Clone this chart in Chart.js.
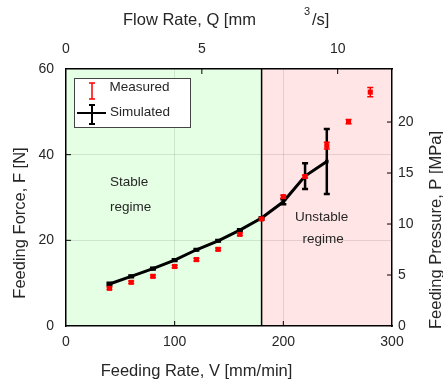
<!DOCTYPE html>
<html>
<head>
<meta charset="utf-8">
<script src="https://cdn.jsdelivr.net/npm/chart.js@4.4.0/dist/chart.umd.min.js"></script>
<style>
  html, body { margin: 0; padding: 0; background: #fff; }
</style>
</head>
<body>
<canvas id="forceChart" width="443" height="385"></canvas>
<script>
// Feeding rate (mm/min) and measured force (N)
const measuredRate = [40, 60, 80, 100, 120, 140, 160, 180, 200, 220, 240, 260, 280];
const measuredForce = [8.8, 10.2, 11.6, 13.9, 15.5, 17.9, 21.4, 25.0, 30.2, 34.9, 42.1, 47.7, 54.6];
const measuredErr = [0.3, 0.3, 0.3, 0.3, 0.3, 0.3, 0.3, 0.3, 0.3, 0.3, 0.8, 0.5, 1.1];

// Simulated force (N)
const simRate = [40, 60, 80, 100, 120, 140, 160, 180, 200, 220, 240];
const simForce = [9.8, 11.6, 13.4, 15.4, 17.8, 19.9, 22.4, 25.2, 29.0, 35.0, 38.4];
const simErr = [0.3, 0.2, 0.2, 0.2, 0.2, 0.2, 0.2, 0.2, 0.6, 3.0, 7.6];

// Stable / unstable boundary (mm/min)
const boundaryRate = 180;

// Tick labels
const rateTicks = [0, 100, 200, 300];
const forceTicks = [0, 20, 40, 60];
const flowTicks = [0, 5, 10];
const pressureTicks = [0, 5, 10, 15, 20];

const FONT = '"Liberation Sans", Arial, sans-serif';
const TXT = '#262626';

function drawErrorBars(ctx, xs, ys, xv, yv, ev, color, lw, cap) {
    ctx.save();
    ctx.strokeStyle = color;
    ctx.lineWidth = lw;
    xv.forEach((v, i) => {
        const px = xs.getPixelForValue(v);
        const yTop = ys.getPixelForValue(yv[i] + ev[i]);
        const yBot = ys.getPixelForValue(yv[i] - ev[i]);
        ctx.beginPath();
        ctx.moveTo(px, yTop); ctx.lineTo(px, yBot);
        ctx.moveTo(px - cap, yTop); ctx.lineTo(px + cap, yTop);
        ctx.moveTo(px - cap, yBot); ctx.lineTo(px + cap, yBot);
        ctx.stroke();
    });
    ctx.restore();
}

const decor = {
    id: 'decor',
    beforeDraw(chart) {
        const { ctx, chartArea: a, scales: { x } } = chart;
        const xb = x.getPixelForValue(boundaryRate);
        ctx.save();
        ctx.fillStyle = '#e5ffe5';
        ctx.fillRect(a.left, a.top, xb - a.left, a.bottom - a.top);
        ctx.fillStyle = '#ffe5e5';
        ctx.fillRect(xb, a.top, a.right - xb, a.bottom - a.top);
        ctx.restore();
    },
    beforeDatasetsDraw(chart) {
        const { ctx, chartArea: a, scales: { x } } = chart;
        const xb = x.getPixelForValue(boundaryRate);
        ctx.save();
        ctx.strokeStyle = '#000';
        ctx.lineWidth = 1.5;
        ctx.beginPath();
        ctx.moveTo(xb, a.top); ctx.lineTo(xb, a.bottom);
        ctx.stroke();
        ctx.restore();
    },
    afterDatasetDraw(chart, args) {
        const { ctx, scales: { x, y } } = chart;
        if (args.index === 1) drawErrorBars(ctx, x, y, simRate, simForce, simErr, '#000', 2.5, 3);
        if (args.index === 0) drawErrorBars(ctx, x, y, measuredRate, measuredForce, measuredErr, '#ff0000', 1.5, 3);
    },
    afterDraw(chart) {
        const { ctx, chartArea: a, scales: { x, y, x2, y2 } } = chart;
        const tl = 5;
        ctx.save();
        // inward tick marks
        ctx.strokeStyle = '#000';
        ctx.lineWidth = 1;
        ctx.beginPath();
        rateTicks.slice(1, -1).forEach(v => { const p = x.getPixelForValue(v); ctx.moveTo(p, a.bottom); ctx.lineTo(p, a.bottom - tl); });
        flowTicks.slice(1).forEach(v => { const p = x2.getPixelForValue(v); ctx.moveTo(p, a.top); ctx.lineTo(p, a.top + tl); });
        forceTicks.slice(1, -1).forEach(v => { const p = y.getPixelForValue(v); ctx.moveTo(a.left, p); ctx.lineTo(a.left + tl, p); });
        pressureTicks.slice(1).forEach(v => { const p = y2.getPixelForValue(v); ctx.moveTo(a.right, p); ctx.lineTo(a.right - tl, p); });
        ctx.stroke();

        // axis titles
        ctx.fillStyle = TXT;
        ctx.textBaseline = 'middle';
        ctx.font = '16.5px ' + FONT;
        ctx.textAlign = 'center';
        ctx.fillText('Feeding Rate, V [mm/min]', 196.5, 371);
        ctx.textAlign = 'left';
        ctx.fillText('Flow Rate, Q [mm', 123, 20);
        ctx.fillText('/s]', 312, 20);
        ctx.font = '11px ' + FONT;
        ctx.fillText('3', 304, 12);
        ctx.font = '16.5px ' + FONT;
        ctx.textAlign = 'center';
        ctx.save();
        ctx.translate(20, 223);
        ctx.rotate(-Math.PI / 2);
        ctx.fillText('Feeding Force, F [N]', 0, 0);
        ctx.restore();
        ctx.save();
        ctx.translate(436, 230);
        ctx.rotate(-Math.PI / 2);
        ctx.fillText('Feeding Pressure, P [MPa]', 0, 0);
        ctx.restore();

        // regime labels
        ctx.font = '13.5px ' + FONT;
        ctx.textAlign = 'left';
        ctx.fillText('Stable', 110, 182);
        ctx.fillText('regime', 110, 207);
        ctx.fillText('Unstable', 295, 217);
        ctx.fillText('regime', 302.5, 239);

        // legend
        ctx.fillStyle = '#fff';
        ctx.fillRect(74, 78, 117, 50);
        ctx.strokeStyle = '#444';
        ctx.lineWidth = 1;
        ctx.strokeRect(74.5, 78.5, 116, 49);
        ctx.strokeStyle = '#ff0000';
        ctx.lineWidth = 1.5;
        ctx.beginPath();
        ctx.moveTo(92, 83); ctx.lineTo(92, 99);
        ctx.moveTo(89, 83); ctx.lineTo(95, 83);
        ctx.moveTo(89, 99); ctx.lineTo(95, 99);
        ctx.stroke();
        ctx.strokeStyle = '#000';
        ctx.lineWidth = 2;
        ctx.beginPath();
        ctx.moveTo(77, 113); ctx.lineTo(106, 113);
        ctx.moveTo(92, 105); ctx.lineTo(92, 124);
        ctx.moveTo(89, 105); ctx.lineTo(95, 105);
        ctx.moveTo(89, 124); ctx.lineTo(95, 124);
        ctx.stroke();
        ctx.fillStyle = TXT;
        ctx.fillText('Measured', 109.5, 87);
        ctx.fillText('Simulated', 110, 112);
        ctx.restore();
    }
};

const gridColor = ctx => (ctx.tick && (ctx.tick.value === ctx.scale.min || ctx.tick.value === ctx.scale.max)) ? 'rgba(0,0,0,0)' : 'rgba(0,0,0,0.1)';
const tickFont = { family: FONT, size: 14 };
const axisBorder = { display: true, color: '#000', width: 1.5 };

new Chart(document.getElementById('forceChart'), {
    type: 'scatter',
    data: {
        datasets: [{
            label: 'Measured',
            data: measuredRate.map((v, i) => ({ x: v, y: measuredForce[i] })),
            showLine: false,
            pointStyle: 'rect',
            pointRadius: 3.6,
            pointBackgroundColor: '#ff0000',
            pointBorderWidth: 0,
            pointBorderColor: '#ff0000'
        }, {
            label: 'Simulated',
            data: simRate.map((v, i) => ({ x: v, y: simForce[i] })),
            showLine: true,
            borderColor: '#000',
            borderWidth: 3,
            pointStyle: 'rect',
            pointRadius: 2.5,
            pointBackgroundColor: '#000',
            pointBorderWidth: 0
        }]
    },
    options: {
        responsive: false,
        animation: false,
        devicePixelRatio: 1,
        layout: { padding: 0 },
        plugins: {
            legend: { display: false },
            tooltip: { enabled: false }
        },
        scales: {
            x: {
                type: 'linear',
                position: 'bottom',
                min: 0,
                max: 300,
                afterBuildTicks: s => { s.ticks = rateTicks.map(v => ({ value: v })); },
                afterFit: s => { s.height = 59; },
                ticks: { font: tickFont, color: TXT, padding: 8, maxRotation: 0 },
                grid: { color: gridColor, drawTicks: false, lineWidth: 1 },
                border: axisBorder
            },
            x2: {
                type: 'linear',
                position: 'top',
                min: 0,
                max: 12,
                afterBuildTicks: s => { s.ticks = flowTicks.map(v => ({ value: v })); },
                afterFit: s => { s.height = 69; },
                ticks: { font: tickFont, color: TXT, padding: 11, maxRotation: 0 },
                grid: { drawOnChartArea: false, drawTicks: false },
                border: axisBorder
            },
            y: {
                type: 'linear',
                position: 'left',
                min: 0,
                max: 60,
                afterBuildTicks: s => { s.ticks = forceTicks.map(v => ({ value: v })); },
                afterFit: s => { s.width = 66; },
                ticks: { font: tickFont, color: TXT, padding: 12 },
                grid: { color: gridColor, drawTicks: false, lineWidth: 1 },
                border: axisBorder
            },
            y2: {
                type: 'linear',
                position: 'right',
                min: 0,
                max: 25.2,
                afterBuildTicks: s => { s.ticks = pressureTicks.map(v => ({ value: v })); },
                afterFit: s => { s.width = 51; },
                ticks: { font: tickFont, color: TXT, padding: 6 },
                grid: { drawOnChartArea: false, drawTicks: false },
                border: axisBorder
            }
        }
    },
    plugins: [decor]
});
</script>
</body>
</html>
